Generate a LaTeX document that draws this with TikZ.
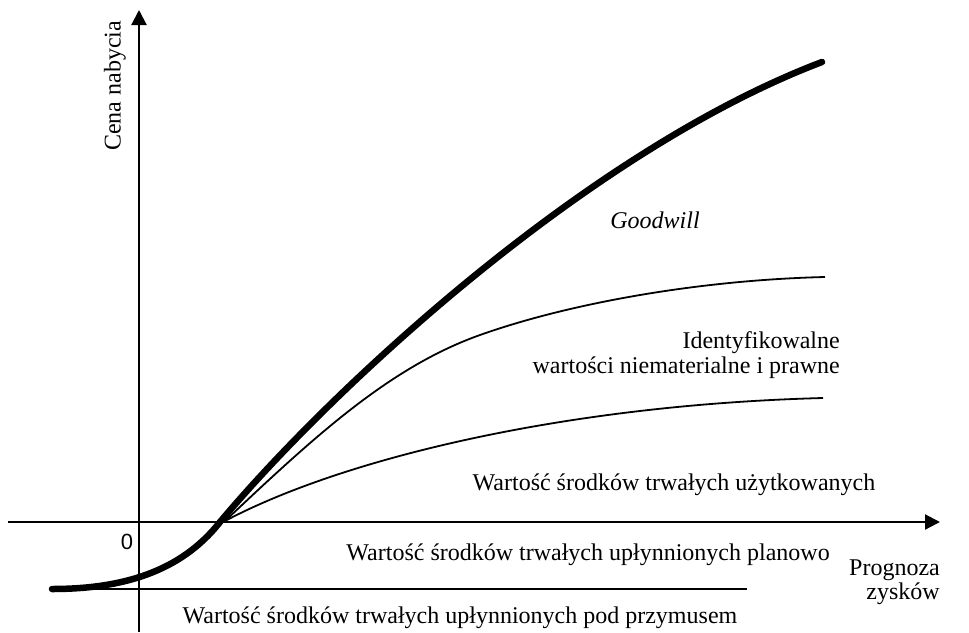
\documentclass[tikz,border=0pt]{standalone}
\usepackage{fontspec}
\setmainfont{Liberation Serif}
\newfontfamily\arialfont{Liberation Sans}
\usetikzlibrary{arrows.meta, positioning}
\tikzstyle{axis} = [line width=2.2pt, -{Triangle[length=15pt,width=15pt]}]
\tikzstyle{share} = [line width=1.8pt]
\tikzstyle{total} = [line width=6.5pt, line cap=round]
\tikzstyle{txt} = [inner sep=0pt, font=\fontsize{24}{24.5}\selectfont]

\begin{document}
\begin{tikzpicture}[x=1pt, y=-1pt, >=latex]
  \useasboundingbox (0,0) rectangle (969,632);
  % axes
  \coordinate (xstart) at (8,522);
  \coordinate (xend) at (940,522);
  \coordinate (ystart) at (139,632);
  \coordinate (yend) at (139,10);
  \draw[axis] (xstart) -- (xend);
  \draw[axis] (ystart) -- (yend);
  % curves
  \coordinate (forced) at (52,589);
  \coordinate (forcedend) at (747,589);
  \coordinate (cross) at (220,522);
  \coordinate (split) at (225,521);
  \coordinate (bend) at (480,335);
  \coordinate (price) at (822,62);
  \coordinate (intang) at (825,277);
  \coordinate (tang) at (823,398);
  \draw[share] (forced) -- (forcedend);
  \draw[share] (split) .. controls (315,436) and (390,367) .. (bend)
    .. controls (570,303) and (700,280) .. (intang);
  \draw[share] (split) .. controls (340,460) and (560,405) .. (tang);
  \draw[total] (forced) .. controls (120,589) and (180,573) .. (cross)
    .. controls (335,385) and (590,150) .. (price);
  % labels
  \node[txt, rotate=90] (ylabel) at (115,86) {Cena nabycia};
  \node[txt, font=\arialfont\fontsize{22}{24}\selectfont] (zero) at (127,542) {0};
  \node[txt] (goodwill) at (655,220) {\textit{Goodwill}};
  \node[txt, align=right, anchor=east] (identyf) at (840,355) {Identyfikowalne\\wartości niematerialne i prawne};
  \node[txt] (used) at (674,485) {Wartość środków trwałych użytkowanych};
  \node[txt, anchor=east] (planned) at (830,555) {Wartość środków trwałych upłynnionych planowo};
  \node[txt] (forcedlabel) at (460,618) {Wartość środków trwałych upłynnionych pod przymusem};
  \node[txt, align=right, anchor=east] (xlabel) at (940,582) {Prognoza\\zysków};
\end{tikzpicture}
\end{document}
